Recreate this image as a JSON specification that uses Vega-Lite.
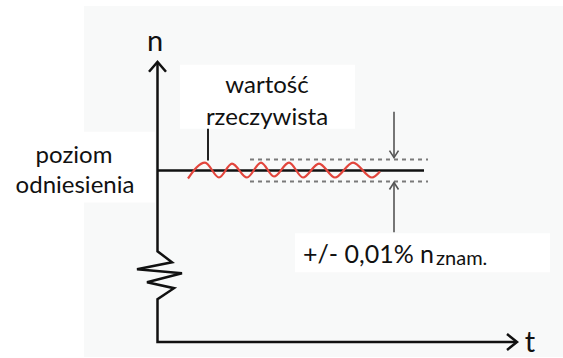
{
  "$schema": "https://vega.github.io/schema/vega-lite/v6.json",
  "width": 563,
  "height": 358,
  "padding": 0,
  "autosize": {"type": "fit", "contains": "padding"},
  "background": "white",
  "config": {"view": {"stroke": null}},
  "datasets": {
    "boxes": [
      {"kind": "bg", "x": 84, "x2": 563, "y": 6, "y2": 358},
      {"kind": "box", "x": 180, "x2": 355, "y": 65, "y2": 129},
      {"kind": "box", "x": 84, "x2": 155, "y": 132, "y2": 203},
      {"kind": "box", "x": 295, "x2": 550, "y": 234, "y2": 273}
    ],
    "paths": [
      {"style": "axis", "seg": "a", "i": 1, "x": 157.5, "y": 63},
      {"style": "axis", "seg": "a", "i": 2, "x": 157.5, "y": 252},
      {"style": "axis", "seg": "a", "i": 3, "x": 172, "y": 263},
      {"style": "axis", "seg": "a", "i": 4, "x": 137, "y": 270},
      {"style": "axis", "seg": "a", "i": 5, "x": 182, "y": 274},
      {"style": "axis", "seg": "a", "i": 6, "x": 147, "y": 283},
      {"style": "axis", "seg": "a", "i": 7, "x": 174, "y": 289},
      {"style": "axis", "seg": "a", "i": 8, "x": 157.5, "y": 300},
      {"style": "axis", "seg": "a", "i": 9, "x": 157.5, "y": 343},
      {"style": "axis", "seg": "a", "i": 10, "x": 516, "y": 343},
      {"style": "axis", "seg": "n", "i": 1, "x": 149, "y": 72},
      {"style": "axis", "seg": "n", "i": 2, "x": 157.5, "y": 62},
      {"style": "axis", "seg": "n", "i": 3, "x": 166, "y": 72},
      {"style": "axis", "seg": "t", "i": 1, "x": 507, "y": 335},
      {"style": "axis", "seg": "t", "i": 2, "x": 517, "y": 343},
      {"style": "axis", "seg": "t", "i": 3, "x": 507, "y": 351},
      {"style": "axis", "seg": "ref", "i": 1, "x": 157.5, "y": 171},
      {"style": "axis", "seg": "ref", "i": 2, "x": 424, "y": 171},
      {"style": "leader", "seg": "l", "i": 1, "x": 208, "y": 129},
      {"style": "leader", "seg": "l", "i": 2, "x": 208, "y": 161},
      {"style": "gray", "seg": "d", "i": 1, "x": 394, "y": 112},
      {"style": "gray", "seg": "d", "i": 2, "x": 394, "y": 158},
      {"style": "gray", "seg": "dh", "i": 1, "x": 389.5, "y": 151},
      {"style": "gray", "seg": "dh", "i": 2, "x": 394, "y": 158},
      {"style": "gray", "seg": "dh", "i": 3, "x": 398.5, "y": 151},
      {"style": "gray", "seg": "u", "i": 1, "x": 394, "y": 233},
      {"style": "gray", "seg": "u", "i": 2, "x": 394, "y": 183},
      {"style": "gray", "seg": "uh", "i": 1, "x": 389.5, "y": 190},
      {"style": "gray", "seg": "uh", "i": 2, "x": 394, "y": 183},
      {"style": "gray", "seg": "uh", "i": 3, "x": 398.5, "y": 190},
      {"style": "dot", "seg": "top", "i": 1, "x": 250, "y": 160},
      {"style": "dot", "seg": "top", "i": 2, "x": 428, "y": 160},
      {"style": "dot", "seg": "bot", "i": 1, "x": 250, "y": 182},
      {"style": "dot", "seg": "bot", "i": 2, "x": 428, "y": 182}
    ],
    "wave": [
      {"t": 188, "n": 179},
      {"t": 205, "n": 163},
      {"t": 219, "n": 178},
      {"t": 232, "n": 164},
      {"t": 247, "n": 178},
      {"t": 261, "n": 163},
      {"t": 274, "n": 177},
      {"t": 289, "n": 163},
      {"t": 303, "n": 178},
      {"t": 319, "n": 164},
      {"t": 335, "n": 178},
      {"t": 353, "n": 163},
      {"t": 372, "n": 178},
      {"t": 380, "n": 172}
    ],
    "bigLetters": [
      {"label": "n", "x": 155, "y": 51},
      {"label": "t", "x": 530, "y": 353}
    ],
    "labels": [
      {"label": "wartość", "x": 267, "y": 93},
      {"label": "rzeczywista", "x": 267, "y": 125},
      {"label": "poziom", "x": 74, "y": 163},
      {"label": "odniesienia", "x": 75, "y": 194}
    ],
    "tol": [
      {"label": "+/- 0,01% n", "x": 303, "y": 264}
    ],
    "sub": [
      {"label": "znam.", "x": 436, "y": 266}
    ]
  },
  "layer": [
    {
      "data": {"name": "boxes"},
      "mark": {"type": "rect"},
      "encoding": {
        "x": {"field": "x", "type": "quantitative", "scale": {"domain": [0, 563], "nice": false, "zero": false}, "axis": null},
        "x2": {"field": "x2"},
        "y": {"field": "y", "type": "quantitative", "scale": {"domain": [0, 358], "nice": false, "zero": false, "reverse": true}, "axis": null},
        "y2": {"field": "y2"},
        "color": {"field": "kind", "type": "nominal", "scale": {"domain": ["bg", "box"], "range": ["#f8f9f9", "#ffffff"]}, "legend": null}
      }
    },
    {
      "data": {"name": "paths"},
      "transform": [{"filter": "datum.style === 'dot'"}],
      "mark": {"type": "line", "color": "#7a7a7a", "strokeWidth": 2, "strokeDash": [4, 4]},
      "encoding": {
        "x": {"field": "x", "type": "quantitative"},
        "y": {"field": "y", "type": "quantitative"},
        "detail": {"field": "seg"},
        "order": {"field": "i"}
      }
    },
    {
      "data": {"name": "paths"},
      "transform": [{"filter": "datum.style === 'gray'"}],
      "mark": {"type": "line", "color": "#555555", "strokeWidth": 1.6},
      "encoding": {
        "x": {"field": "x", "type": "quantitative"},
        "y": {"field": "y", "type": "quantitative"},
        "detail": {"field": "seg"},
        "order": {"field": "i"}
      }
    },
    {
      "data": {"name": "paths"},
      "transform": [{"filter": "datum.style === 'leader'"}],
      "mark": {"type": "line", "color": "#222222", "strokeWidth": 2},
      "encoding": {
        "x": {"field": "x", "type": "quantitative"},
        "y": {"field": "y", "type": "quantitative"},
        "detail": {"field": "seg"},
        "order": {"field": "i"}
      }
    },
    {
      "data": {"name": "paths"},
      "transform": [{"filter": "datum.style === 'axis'"}],
      "mark": {"type": "line", "color": "#111111", "strokeWidth": 2.5},
      "encoding": {
        "x": {"field": "x", "type": "quantitative"},
        "y": {"field": "y", "type": "quantitative"},
        "detail": {"field": "seg"},
        "order": {"field": "i"}
      }
    },
    {
      "data": {"name": "wave"},
      "mark": {"type": "line", "color": "#e2453c", "strokeWidth": 2.2, "interpolate": "monotone"},
      "encoding": {
        "x": {"field": "t", "type": "quantitative"},
        "y": {"field": "n", "type": "quantitative"}
      }
    },
    {
      "data": {"name": "bigLetters"},
      "mark": {"type": "text", "font": "Lato", "fontSize": 29, "align": "center", "baseline": "alphabetic", "color": "#111111"},
      "encoding": {
        "x": {"field": "x", "type": "quantitative"},
        "y": {"field": "y", "type": "quantitative"},
        "text": {"field": "label"}
      }
    },
    {
      "data": {"name": "labels"},
      "mark": {"type": "text", "font": "Lato", "fontSize": 24, "align": "center", "baseline": "alphabetic", "color": "#111111"},
      "encoding": {
        "x": {"field": "x", "type": "quantitative"},
        "y": {"field": "y", "type": "quantitative"},
        "text": {"field": "label"}
      }
    },
    {
      "data": {"name": "tol"},
      "mark": {"type": "text", "font": "Lato", "fontSize": 25, "align": "left", "baseline": "alphabetic", "color": "#111111"},
      "encoding": {
        "x": {"field": "x", "type": "quantitative"},
        "y": {"field": "y", "type": "quantitative"},
        "text": {"field": "label"}
      }
    },
    {
      "data": {"name": "sub"},
      "mark": {"type": "text", "font": "Lato", "fontSize": 20, "align": "left", "baseline": "alphabetic", "color": "#111111"},
      "encoding": {
        "x": {"field": "x", "type": "quantitative"},
        "y": {"field": "y", "type": "quantitative"},
        "text": {"field": "label"}
      }
    }
  ]
}
